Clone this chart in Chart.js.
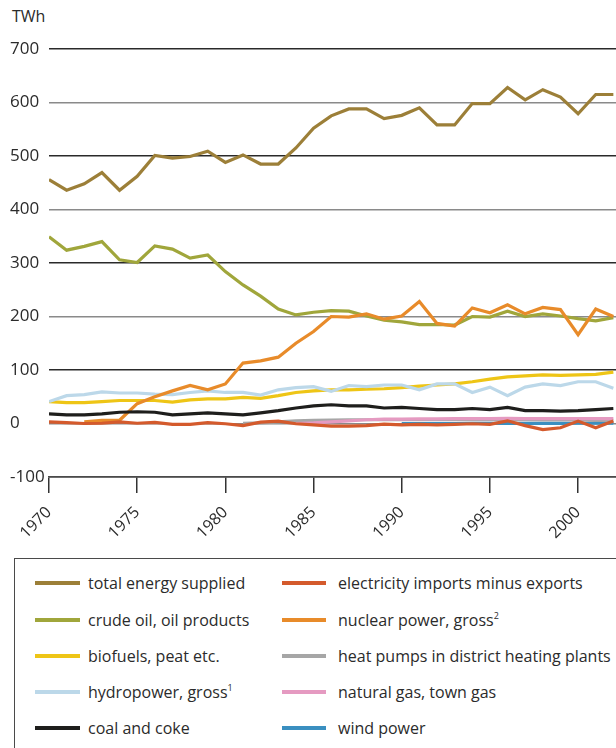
<!DOCTYPE html>
<html>
<head>
<meta charset="utf-8">
<script src="https://cdn.jsdelivr.net/npm/chart.js@4.4.1/dist/chart.umd.min.js"></script>
<style>
  body { margin: 0; background: #fff; font-family: "Open Sans", sans-serif; color: #2b2b2b; }
  #wrap { position: relative; width: 616px; height: 748px; overflow: hidden; }
  #unit { position: absolute; left: 12px; top: 5px; font-size: 16px; }
  #energyChart { position: absolute; left: 0; top: 0; }
  #legend { position: absolute; left: 14px; top: 558px; width: 660px; height: 240px; border: 1px solid #4a4a4a; }
  .item { position: absolute; height: 20px; display: flex; align-items: center; font-size: 16px; white-space: nowrap; }
  .swatch { height: 4px; }
  sup { font-size: 9px; vertical-align: 7px; line-height: 0; }
</style>
</head>
<body>
<div id="wrap">
  <div id="unit">TWh</div>
  <canvas id="energyChart" width="616" height="550"></canvas>
  <div id="legend"></div>
</div>
<script>
// Years on the x axis
const years = [1970, 1971, 1972, 1973, 1974, 1975, 1976, 1977, 1978, 1979, 1980,
  1981, 1982, 1983, 1984, 1985, 1986, 1987, 1988, 1989, 1990,
  1991, 1992, 1993, 1994, 1995, 1996, 1997, 1998, 1999, 2000, 2001, 2002];
const xTicks = [1970, 1975, 1980, 1985, 1990, 1995, 2000];
const yTicks = [-100, 0, 100, 200, 300, 400, 500, 600, 700];

// Series values, TWh
const total = [456, 436, 448, 469, 436, 462, 501, 496, 499, 509, 488, 502, 485, 485, 515, 552,
  575, 588, 588, 570, 576, 590, 558, 558, 598, 598, 628, 605, 624, 610, 579, 615, 615];
const crudeOil = [349, 324, 331, 340, 306, 301, 332, 326, 309, 315, 284, 259, 238, 214, 203, 208,
  211, 210, 201, 193, 190, 185, 185, 184, 200, 199, 210, 200, 205, 201, 196, 192, 198];
const biofuels = [41, 39, 39, 41, 43, 43, 43, 40, 44, 46, 46, 49, 47, 52, 58, 61,
  63, 63, 64, 65, 67, 70, 72, 74, 78, 83, 87, 89, 91, 90, 91, 92, 96];
const hydro = [41, 52, 54, 59, 57, 57, 55, 54, 58, 61, 58, 58, 53, 63, 67, 69,
  60, 71, 69, 72, 72, 63, 74, 74, 58, 68, 52, 68, 74, 71, 78, 78, 66];
const coal = [18, 16, 16, 18, 21, 22, 21, 16, 18, 20, 18, 16, 20, 24, 29, 33,
  35, 33, 33, 29, 30, 28, 26, 26, 28, 26, 30, 24, 24, 23, 24, 26, 28];
const elecNet = [3, 1.5, 0, 0.5, 3, 0.5, 2, -1.5, -1.5, 1.5, -0.5, -4, 2.5, 4.5, -0.5, -2.5,
  -5, -5, -4, -1, -2.5, -1.5, -2.5, -1.5, -0.5, -1.5, 5, -4, -11.5, -8, 4.5, -8, 4.5];
const nuclear = [null, null, 3, 6, 6, 37, 50, 61, 71, 63, 74, 113, 117, 124, 150, 172,
  200, 199, 205, 195, 201, 228, 187, 182, 216, 207, 222, 205, 217, 213, 166, 214, 200];
const heatPumps = [null, null, null, null, null, null, null, null, null, null, null,
  0.5, 1, 3, 5, 6, 6.5, 7, 7, 7, 7, 7, 7, 7, 7, 7, 7, 7, 6.5, 6.5, 6.5, 6, 6];
const naturalGas = [null, null, null, null, null, null, null, null, null, null, null,
  null, null, null, 0, 1, 3, 5, 7, 8, 8, 8.5, 8.5, 9, 9, 9, 9.5, 9, 9, 9, 9, 9, 9];
const wind = [null, null, null, null, null, null, null, null, null, null, null,
  null, null, null, null, null, null, null, null, null, 0,
  0, 0, 0, 0.1, 0.1, 0.2, 0.2, 0.3, 0.4, 0.5, 0.5, 0.6];

// Legend order: left column then right column
const seriesNames = ['total energy supplied', 'crude oil, oil products', 'biofuels, peat etc.',
  'hydropower, gross', 'coal and coke', 'electricity imports minus exports',
  'nuclear power, gross', 'heat pumps in district heating plants', 'natural gas, town gas', 'wind power'];
const footnotes = ['', '', '', '1', '', '', '2', '', '', ''];
const seriesValues = [total, crudeOil, biofuels, hydro, coal, elecNet, nuclear, heatPumps, naturalGas, wind];
const seriesColors = ['#9c7f38', '#a0a63b', '#eec516', '#bcd8e9', '#1e1e1c', '#d45a2c',
  '#e88b2a', '#a6a6a6', '#e59ac1', '#3a8fc0'];
// drawing order: lower number = drawn on top
const seriesOrder = [2, 3, 5, 4, 1, 0, 1, 7, 6, 8];

const datasets = seriesNames.map((name, i) => ({
  label: name,
  data: years.map((yr, k) => ({ x: yr, y: seriesValues[i][k] })),
  borderColor: seriesColors[i],
  backgroundColor: seriesColors[i],
  borderWidth: 3.2,
  pointRadius: 0,
  tension: 0,
  spanGaps: false,
  order: seriesOrder[i]
}));

const ctx = document.getElementById('energyChart');
new Chart(ctx, {
  type: 'line',
  data: { datasets: datasets },
  options: {
    responsive: false,
    animation: false,
    devicePixelRatio: 1,
    layout: { padding: { left: 10, top: 49, right: 0, bottom: 0 } },
    plugins: { legend: { display: false }, tooltip: { enabled: false } },
    scales: {
      x: {
        type: 'linear',
        min: 1970,
        max: 2002.15,
        afterBuildTicks: scale => { scale.ticks = xTicks.map(v => ({ value: v })); },
        afterFit: scale => { scale.height = 73; },
        border: { display: true, color: '#4a4a4a', width: 1.5 },
        grid: { drawOnChartArea: false, drawTicks: true, tickLength: 16, color: '#333', lineWidth: 1.5 },
        ticks: {
          autoSkip: false,
          minRotation: 45,
          maxRotation: 45,
          padding: 10,
          color: '#2b2b2b',
          font: { family: 'Open Sans', size: 16 },
          callback: v => String(v)
        }
      },
      y: {
        min: -100,
        max: 700,
        afterBuildTicks: scale => { scale.ticks = yTicks.map(v => ({ value: v })); },
        afterFit: scale => { scale.width = 39; },
        border: { display: false },
        grid: {
          drawTicks: false,
          lineWidth: 1.5,
          color: c => (Math.abs(c.tick.value) % 200 === 100 ? '#2a2a2a' : '#8a8a8a')
        },
        ticks: {
          crossAlign: 'far',
          padding: 0,
          color: '#2b2b2b',
          font: { family: 'Open Sans', size: 17 },
          callback: v => String(v)
        }
      }
    }
  }
});

// HTML legend in a box below the chart
const legendEl = document.getElementById('legend');
const rowTops = [14, 51, 87, 123, 159];
const colLeft = [20, 267];
const swatchW = [45, 44];
const swatchGap = [8, 12];
seriesNames.forEach((name, i) => {
  const col = i < 5 ? 0 : 1;
  const row = i % 5;
  const item = document.createElement('div');
  item.className = 'item';
  item.style.left = colLeft[col] + 'px';
  item.style.top = rowTops[row] + 'px';
  const sw = document.createElement('span');
  sw.className = 'swatch';
  sw.style.width = swatchW[col] + 'px';
  sw.style.marginRight = swatchGap[col] + 'px';
  sw.style.background = seriesColors[i];
  const txt = document.createElement('span');
  txt.textContent = name;
  if (footnotes[i]) {
    const s = document.createElement('sup');
    s.textContent = footnotes[i];
    txt.appendChild(s);
  }
  item.appendChild(sw);
  item.appendChild(txt);
  legendEl.appendChild(item);
});
</script>
</body>
</html>
